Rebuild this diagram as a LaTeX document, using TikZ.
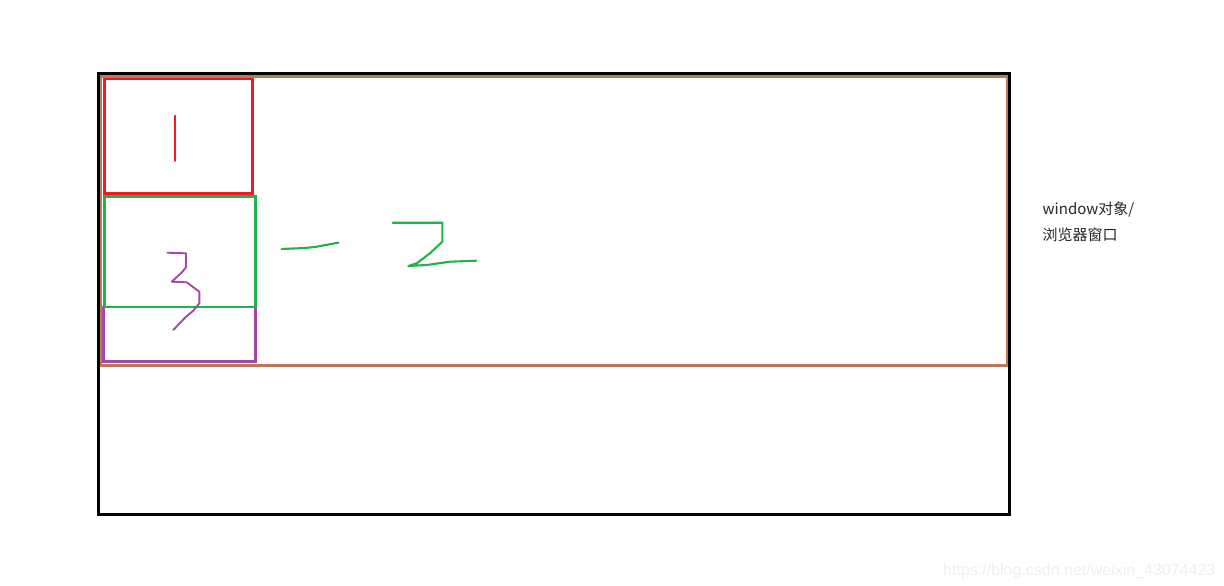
\documentclass[tikz,border=0pt]{standalone}
\usepackage{fontspec}
\newfontfamily\cjk{Noto Sans CJK SC}
\newfontfamily\wmfont{Liberation Sans}
\definecolor{pblack}{HTML}{000000}
\definecolor{pbrown}{HTML}{B97A57}
\definecolor{pred}{HTML}{ED1C24}
\definecolor{pgreen}{HTML}{22B14C}
\definecolor{ppurple}{HTML}{A349A4}
\definecolor{wmgray}{HTML}{EEEEEE}
\tikzset{
  box/.style={line join=miter},
  pen/.style={line width=1.8pt, line cap=round, line join=round},
  label/.style={anchor=base west, inner sep=0pt, font=\cjk\fontsize{15}{18}\selectfont, text=black!85},
}
\begin{document}
\begin{tikzpicture}[x=1pt,y=-1pt]
\useasboundingbox (0,0) rectangle (1224,586);
% window
\draw[box, pblack, line width=3pt] (98.5,73.3) rectangle (1009,514);
\draw[box, pbrown, line width=2.6pt] (101,76.5) rectangle (1007,365.5);
% boxes
\draw[box, ppurple, line width=2.8pt] (103.3,307) rectangle (255.3,361.7);
\draw[box, pgreen, line width=2.8pt] (104.3,196.3) rectangle (255.3,307);
\draw[box, pred, line width=2.4pt] (104.3,78.8) rectangle (252.3,193.3);
% handwritten 1
\draw[pen, pred, line width=1.7pt] (175,115.7) -- (175,161);
% handwritten 3
\draw[pen, ppurple, line width=1.9pt] (167.3,252.7) -- (186,253.3) -- (186,267.3) -- (182,272.3) -- (171.7,281.7) -- (186.7,282.3) -- (199.3,291.7) -- (199.3,303.3) -- (193.3,310.7) -- (185,317.7) -- (173.3,330);
% handwritten - 2
\draw[pen, pgreen, line width=2.1pt] (281.7,249) -- (305,248) -- (316.7,246.7) -- (338.3,242.7);
\draw[pen, pgreen, line width=2.1pt] (392.7,222.7) -- (442.3,222.7) -- (442.3,241.7) -- (430,253.3) -- (416.7,263.3) -- (408.3,266) -- (426.7,265) -- (450,261.7) -- (476,260.7);
% labels
\node[label] (l1) at (1042.5,214) {window对象/};
\node[label] (l2) at (1042.5,240) {浏览器窗口};
\node[anchor=base west, inner sep=0pt, text=wmgray, font=\wmfont\fontsize{16}{18}\selectfont] (wm) at (943,575) {https://blog.csdn.net/weixin\_43074423};
\end{tikzpicture}
\end{document}
